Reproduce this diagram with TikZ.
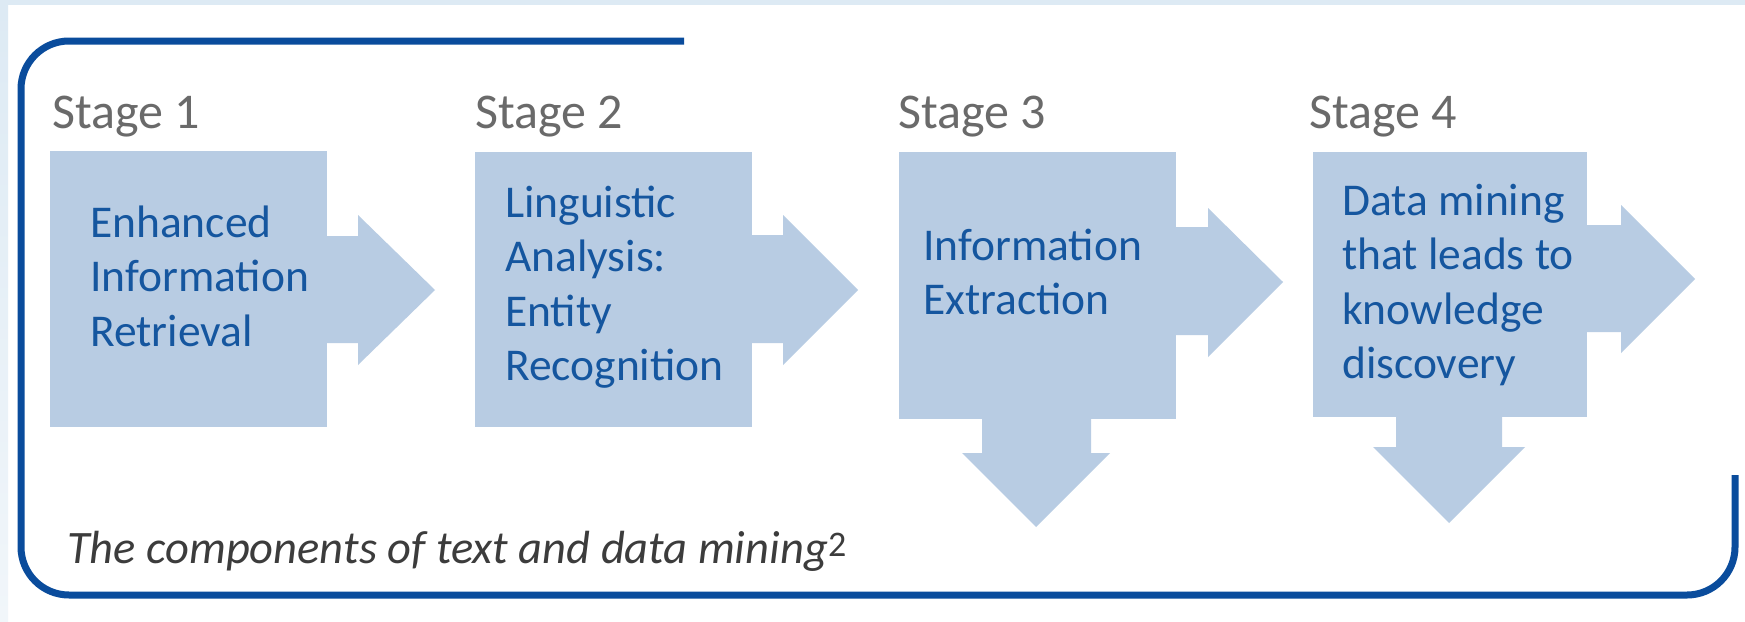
\documentclass[tikz,border=0pt]{standalone}
\usepackage{fontspec}
\setmainfont{Carlito}
\definecolor{bandblue}{HTML}{DDEAF4}
\definecolor{bandlight}{HTML}{F1F6FA}
\definecolor{frameblue}{HTML}{0A4C9C}
\definecolor{boxfill}{HTML}{B8CCE3}
\definecolor{textblue}{HTML}{15569F}
\definecolor{stagegray}{HTML}{6A6A6A}
\definecolor{capgray}{HTML}{3C3C3C}
\newcommand\myline[1]{\hbox{#1}}
\begin{document}
\begin{tikzpicture}[x=1pt,y=-1pt,
  stagebox/.style={fill=boxfill, draw=none, inner sep=0pt, outer sep=0pt},
  blockarrow/.style={fill=boxfill, draw=none},
  stagelabel/.style={anchor=base west, inner sep=0pt, text=stagegray, font=\fontsize{50}{58}\selectfont},
  boxtext/.style={anchor=base west, inner sep=0pt, text=textblue, font=\fontsize{45.5}{54.5}\selectfont},
  frameline/.style={draw=frameblue, line width=7pt, rounded corners=48pt},
  caption/.style={anchor=base west, inner sep=0pt, text=capgray, font=\fontsize{46.5}{55}\selectfont\itshape}]
\useasboundingbox (0,0) rectangle (1745,621);
\fill[white] (0,0) rectangle (1745,621);
\fill[bandblue] (0,0) rectangle (1745,5);
\shade[top color=bandblue, bottom color=bandlight] (0,5) rectangle (8,621);

% frame
\draw[frameline] (684,41) -- (21,41) -- (21,595) -- (1735,595) -- (1735,475);

% stage labels
\node[stagelabel] (s1) at (52,128) {Stage 1};
\node[stagelabel] (s2) at (475,128) {Stage 2};
\node[stagelabel] (s3) at (898,128) {Stage 3};
\node[stagelabel] (s4) at (1309,128) {Stage 4};

% boxes
\node[stagebox, minimum width=277pt, minimum height=276pt] (b1) at (188.5,289) {};
\node[stagebox, minimum width=277pt, minimum height=275pt] (b2) at (613.5,289.5) {};
\node[stagebox, minimum width=277pt, minimum height=267pt] (b3) at (1037.5,285.5) {};
\node[stagebox, minimum width=274pt, minimum height=265pt] (b4) at (1450,284.5) {};

% block arrows
\fill[blockarrow] (326,236) -- (358,236) -- (358,215) -- (435,290) -- (358,365) -- (358,343) -- (326,343) -- cycle;
\fill[blockarrow] (751,235) -- (783,235) -- (783,215) -- (858,290) -- (783,365) -- (783,343) -- (751,343) -- cycle;
\fill[blockarrow] (1175,227) -- (1208,227) -- (1208,208) -- (1283,282) -- (1208,357) -- (1208,335) -- (1175,335) -- cycle;
\fill[blockarrow] (982,418) -- (982,453) -- (962,453) -- (1036,527) -- (1110,453) -- (1091,453) -- (1091,418) -- cycle;
\fill[blockarrow] (1586,225) -- (1621,225) -- (1621,205) -- (1695,279) -- (1621,353) -- (1621,332) -- (1586,332) -- cycle;
\fill[blockarrow] (1396,416) -- (1396,447) -- (1373,447) -- (1449,523) -- (1525,447) -- (1502,447) -- (1502,416) -- cycle;

% box texts
\node[boxtext] (t1) at (90,237) {\vtop{\myline{Enhanced}\myline{Information}\myline{Retrieval}}};
\node[boxtext] (t2) at (505,217) {\vtop{\myline{Linguistic}\myline{Analysis:}\myline{Entity}\myline{Recognition}}};
\node[boxtext] (t3) at (923,260) {\vtop{\myline{Information}\myline{Extraction}}};
\node[boxtext] (t4) at (1342,215) {\vtop{\myline{Data mining}\myline{that leads to}\myline{knowledge}\myline{discovery}}};

% caption
\node[caption] (cap) at (67,563) {The components of text and data mining\raisebox{7pt}{\upshape\fontsize{36}{36}\selectfont 2}};
\end{tikzpicture}
\end{document}
